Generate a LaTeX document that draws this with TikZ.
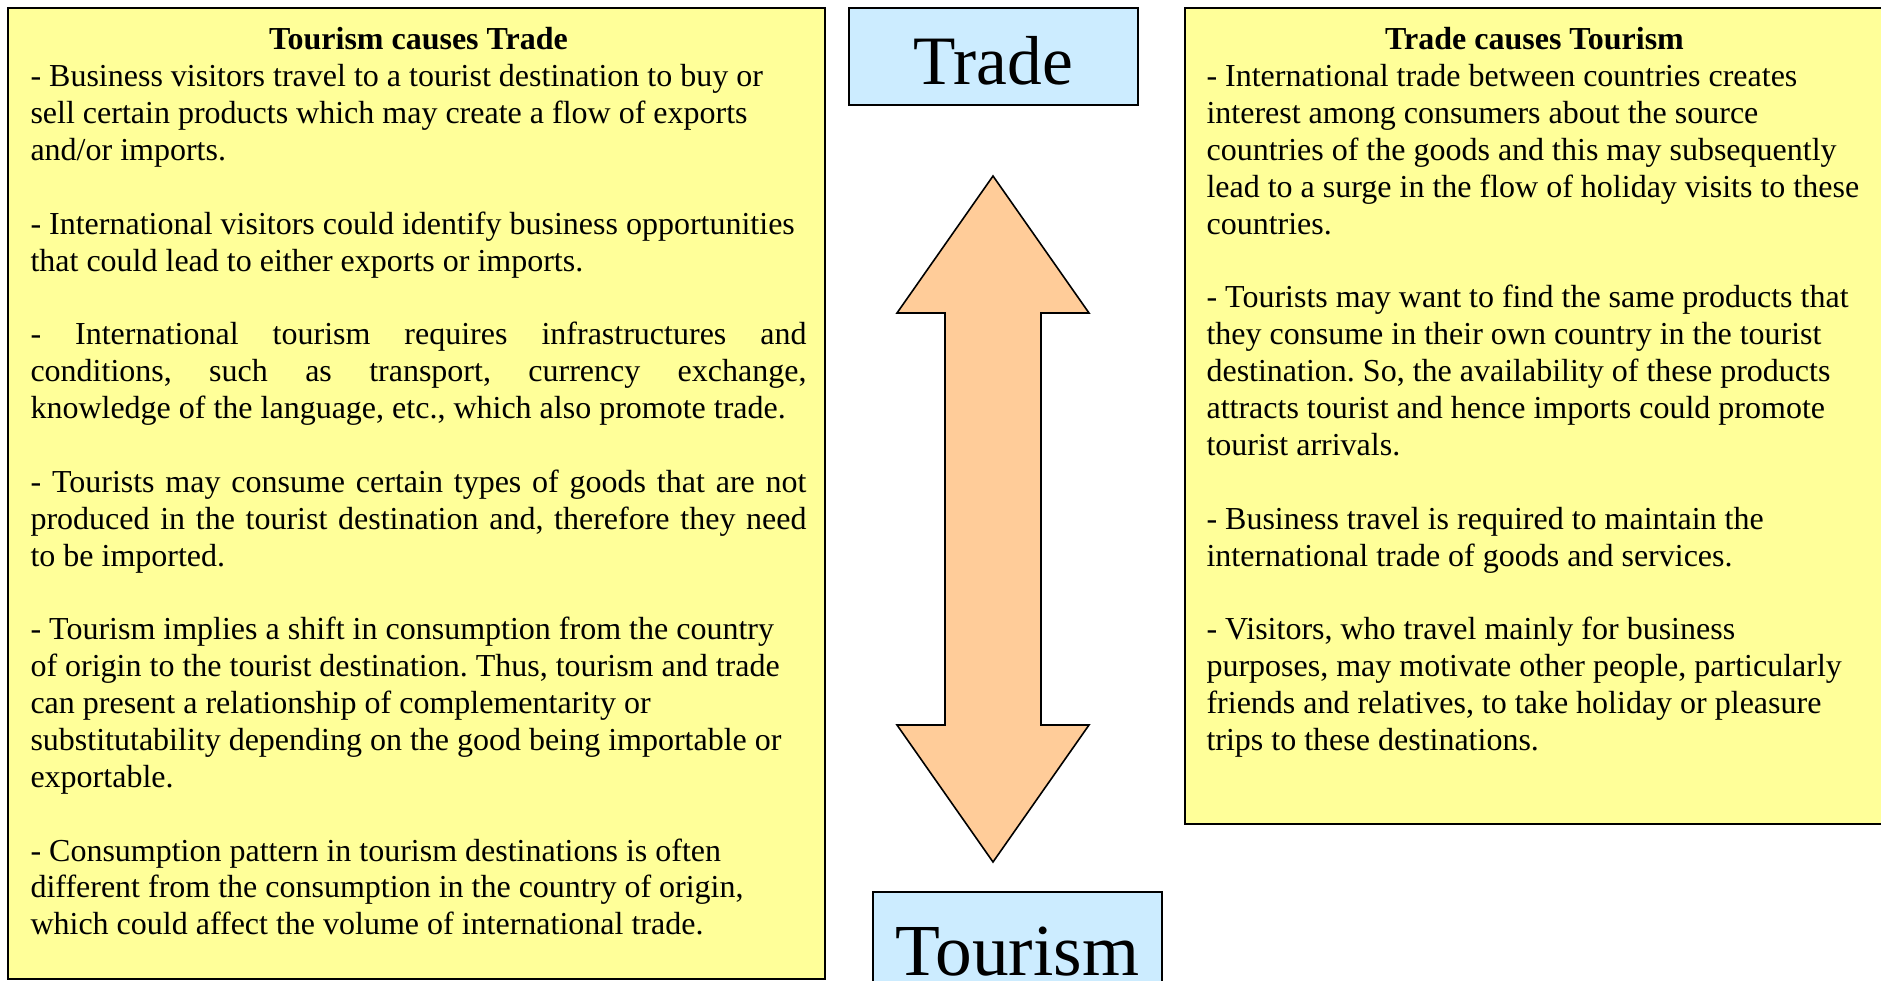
\documentclass[tikz,border=0pt]{standalone}
\usepackage{fontspec}
\setmainfont{Liberation Serif}
\definecolor{notefill}{HTML}{FFFF99}
\definecolor{keyfill}{HTML}{CCECFF}
\definecolor{arrowfill}{HTML}{FFCC99}
\newcommand{\jline}[1]{\makebox[291pt][s]{#1}}
\newcommand{\headline}[2]{\makebox[#1]{\bfseries #2}}
\newcommand{\bodyfont}{\fontsize{12}{13.83}\selectfont\frenchspacing\hyphenpenalty=10000\relax}
\newcommand{\wordspace}{\spaceskip=0pt\xspaceskip=0pt\relax}

\begin{document}
\begin{tikzpicture}
  [x=0.375pt, y=-0.375pt,
   note/.style = {draw, fill=notefill, line width=0.8pt, inner sep=0pt},
   key/.style = {draw, fill=keyfill, line width=0.8pt, inner sep=0pt,
                 minimum width=108.4pt},
   body/.style = {anchor=north west, inner sep=0pt, align=left, font=\bodyfont},
   arrowbody/.style = {draw, fill=arrowfill, line width=0.6pt}]
  \useasboundingbox (0,0) rectangle (1881,981);

  \node[note, minimum width=306.4pt, minimum height=364.1pt] (causetrade) at (416.5,493.5) {};
  \node[note, minimum width=266.3pt, minimum height=306pt] (causetourism) at (1540,416) {};
  \node[key, minimum height=36.4pt, text height=21.5pt, font=\fontsize{26}{30}\selectfont] (trade) at (993.5,56.5) {Trade};
  \node[key, minimum height=42.8pt, text height=20.5pt, font=\fontsize{27.5}{32}\selectfont] (tourism) at (1017.5,949) {Tourism};

  \draw[arrowbody] (993,176) -- (1089,313) -- (1041,313) -- (1041,725) -- (1089,725)
    -- (993,862) -- (897,725) -- (945,725) -- (945,313) -- (897,313) -- cycle;

  \node[body, text width=300pt] (tradetext) at (30,27) {\wordspace
    \headline{291pt}{Tourism causes Trade}\\
    - Business visitors travel to a tourist destination to buy or\\
    sell certain products which may create a flow of exports\\
    and/or imports.\\[13.83pt]
    - International visitors could identify business opportunities\\
    that could lead to either exports or imports.\\[13.83pt]
    \jline{- International tourism requires infrastructures and}\\
    \jline{conditions, such as transport, currency exchange,}\\
    knowledge of the language, etc., which also promote trade.\\[13.83pt]
    \jline{- Tourists may consume certain types of goods that are not}\\
    \jline{produced in the tourist destination and, therefore they need}\\
    to be imported.\\[13.83pt]
    - Tourism implies a shift in consumption from the country\\
    of origin to the tourist destination. Thus, tourism and trade\\
    can present a relationship of complementarity or\\
    substitutability depending on the good being importable or\\
    exportable.\\[13.83pt]
    - Consumption pattern in tourism destinations is often\\
    different from the consumption in the country of origin,\\
    which could affect the volume of international trade.};

  \node[body, text width=262pt] (tourismtext) at (1206,27) {\wordspace
    \headline{246pt}{Trade causes Tourism}\\
    - International trade between countries creates\\
    interest among consumers about the source\\
    countries of the goods and this may subsequently\\
    lead to a surge in the flow of holiday visits to these\\
    countries.\\[13.83pt]
    - Tourists may want to find the same products that\\
    they consume in their own country in the tourist\\
    destination. So, the availability of these products\\
    attracts tourist and hence imports could promote\\
    tourist arrivals.\\[13.83pt]
    - Business travel is required to maintain the\\
    international trade of goods and services.\\[13.83pt]
    - Visitors, who travel mainly for business\\
    purposes, may motivate other people, particularly\\
    friends and relatives, to take holiday or pleasure\\
    trips to these destinations.};
\end{tikzpicture}
\end{document}
